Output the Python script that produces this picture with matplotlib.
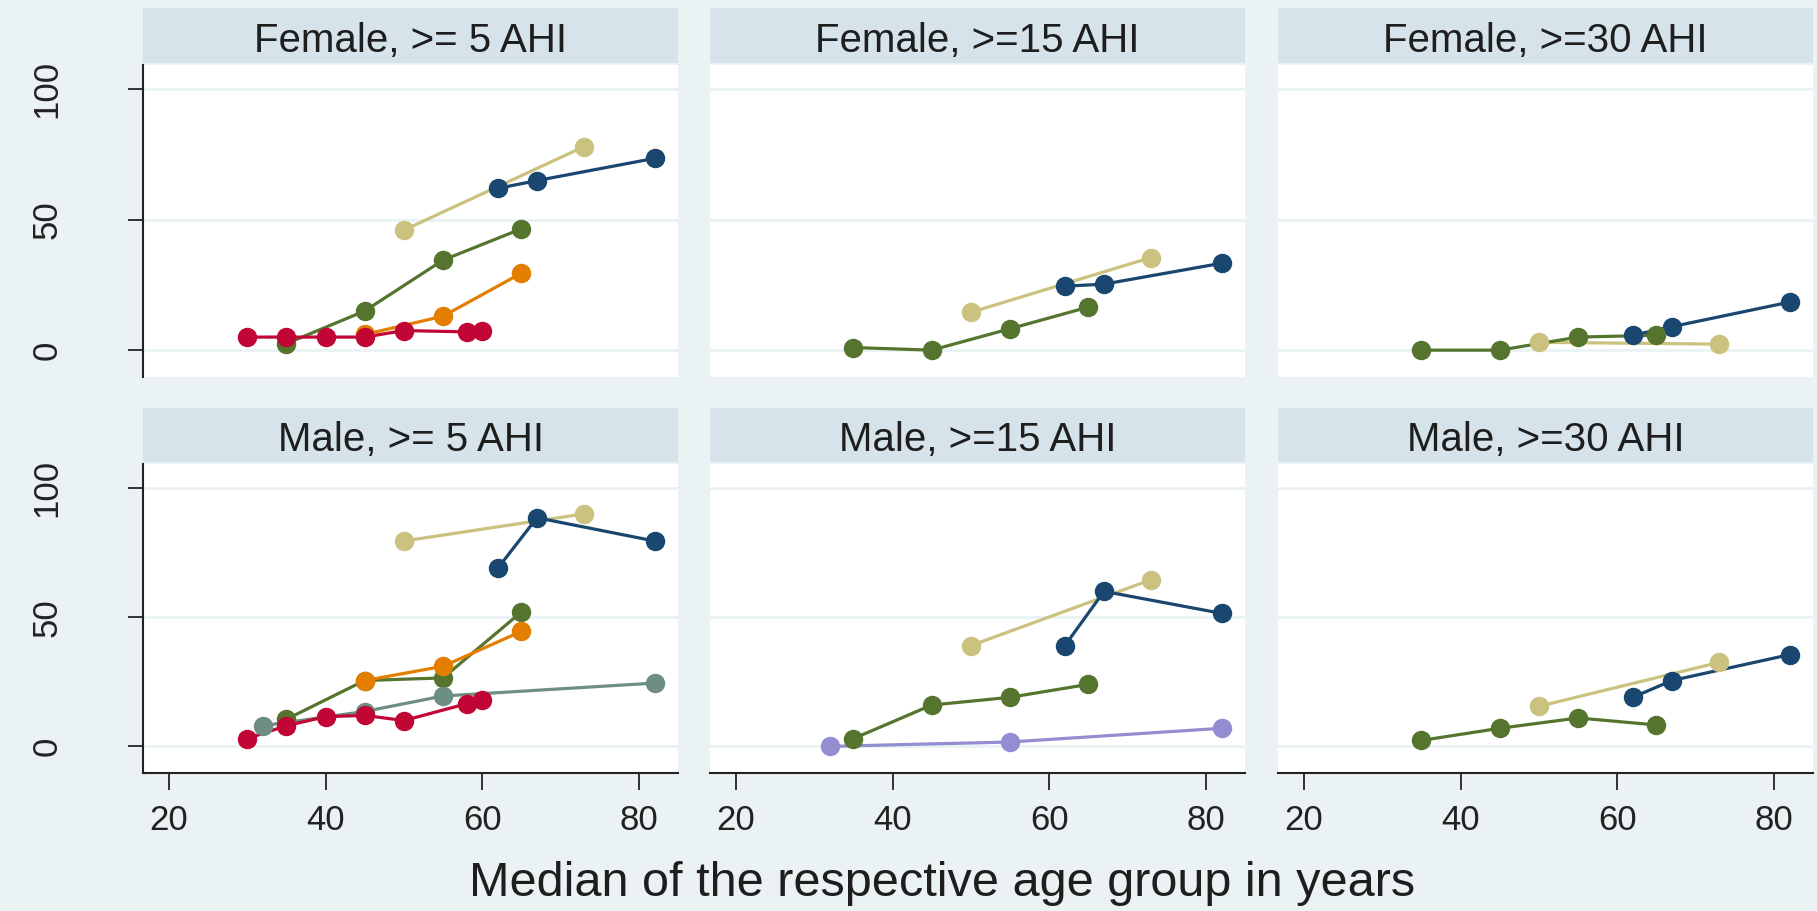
import matplotlib
matplotlib.use("Agg")
import matplotlib.pyplot as plt

plt.rcParams['font.family'] = ['Liberation Sans', 'DejaVu Sans']

# ---------------- data ----------------
panel_titles = ["Female, >= 5 AHI", "Female, >=15 AHI", "Female, >=30 AHI",
                "Male, >= 5 AHI", "Male, >=15 AHI", "Male, >=30 AHI"]
x_ticks = [20, 40, 60, 80]
y_ticks = [0, 50, 100]
x_title = "Median of the respective age group in years"

# ages (median of age group) per series
khaki_age = [50, 73]
navy_age = [62, 67, 82]
green_age = [35, 45, 55, 65]
orange_age = [45, 55, 65]
teal_age = [32, 45, 55, 82]
red_age = [30, 35, 40, 45, 50, 58, 60]
lavender_age = [32, 55, 82]

# prevalence values (%) per panel
khaki_f5 = [46, 78]
navy_f5 = [62, 65, 73.5]
green_f5 = [2.5, 15, 34.5, 46.5]
orange_f5 = [6, 13, 29.5]
red_f5 = [5, 5, 5, 5, 7.5, 7, 7.5]

khaki_f15 = [14.5, 35.5]
navy_f15 = [24.5, 25.3, 33.3]
green_f15 = [1, 0, 8.2, 16.5]

khaki_f30 = [3, 2.3]
navy_f30 = [5.7, 9, 18.4]
green_f30 = [0, 0, 5, 5.7]

khaki_m5 = [79.5, 90]
navy_m5 = [69, 88.5, 79.5]
green_m5 = [10.5, 25.5, 26.5, 52]
orange_m5 = [25.5, 31, 44.5]
teal_m5 = [8, 13.5, 19.5, 24.5]
red_m5 = [3, 8, 11.5, 12, 10, 16.5, 18]

khaki_m15 = [39, 64.5]
navy_m15 = [39, 60, 51.5]
green_m15 = [3, 16, 19, 24]
lavender_m15 = [0, 1.7, 7]

khaki_m30 = [15.5, 32.5]
navy_m30 = [19, 25.5, 35.5]
green_m30 = [2.3, 7, 11, 8.3]

# ---------------- styles ----------------
C_KHAKI = "#cac27e"
C_NAVY = "#1a476f"
C_GREEN = "#55752f"
C_ORANGE = "#e37e00"
C_TEAL = "#6e8e84"
C_RED = "#c10534"
C_LAV = "#938dd2"

panels = [
    [(khaki_age, khaki_f5, C_KHAKI), (navy_age, navy_f5, C_NAVY), (green_age, green_f5, C_GREEN),
     (orange_age, orange_f5, C_ORANGE), (red_age, red_f5, C_RED)],
    [(khaki_age, khaki_f15, C_KHAKI), (navy_age, navy_f15, C_NAVY), (green_age, green_f15, C_GREEN)],
    [(khaki_age, khaki_f30, C_KHAKI), (navy_age, navy_f30, C_NAVY), (green_age, green_f30, C_GREEN)],
    [(khaki_age, khaki_m5, C_KHAKI), (navy_age, navy_m5, C_NAVY), (green_age, green_m5, C_GREEN),
     (orange_age, orange_m5, C_ORANGE), (teal_age, teal_m5, C_TEAL), (red_age, red_m5, C_RED)],
    [(khaki_age, khaki_m15, C_KHAKI), (navy_age, navy_m15, C_NAVY), (green_age, green_m15, C_GREEN),
     (lavender_age, lavender_m15, C_LAV)],
    [(khaki_age, khaki_m30, C_KHAKI), (navy_age, navy_m30, C_NAVY), (green_age, green_m30, C_GREEN)],
]

BG = "#eaf2f3"
STRIP = "#d6e3ea"
GRID = "#eaf2f3"
AX = "#222222"

W, H = 1817, 911
fig = plt.figure(figsize=(W / 100, H / 100), dpi=100, facecolor=BG)

col_x = [143, 710, 1278]
col_w = 535
rows = [  # (strip_top, strip_bottom, plot_top, plot_bottom) in pixels
    (8, 63, 65, 377),
    (408, 462, 464, 773),
]


def fr(x0, y0, x1, y1):
    return [x0 / W, 1 - y1 / H, (x1 - x0) / W, (y1 - y0) / H]


for i, series in enumerate(panels):
    r, c = divmod(i, 3)
    st, sb, pt, pb = rows[r]
    x0 = col_x[c]
    # strip
    sax = fig.add_axes(fr(x0, st, x0 + col_w, sb))
    sax.set_facecolor(STRIP)
    sax.set_xticks([]); sax.set_yticks([])
    for s in sax.spines.values():
        s.set_visible(False)
    sax.text(0.5, 0.40, panel_titles[i], ha="center", va="center",
             fontsize=29, color="#1e1e1e", transform=sax.transAxes)
    # plot
    ax = fig.add_axes(fr(x0, pt, x0 + col_w, pb))
    ax.set_facecolor("white")
    ax.set_xlim(16.7, 85.0)
    ax.set_ylim(-10.3, 109.3)
    for yv in y_ticks:
        ax.axhline(yv, color=GRID, lw=2.0, zorder=0)
    for xs, ys, col in series:
        ax.plot(xs, ys, '-', color=col, lw=2.3, zorder=2)
        ax.plot(xs, ys, 'o', color=col, ms=13, mec=col, zorder=3)
    for s in ax.spines.values():
        s.set_visible(False)
    ax.set_yticks(y_ticks)
    ax.set_xticks(x_ticks)
    if c == 0:
        ax.spines['left'].set_visible(True)
        ax.spines['left'].set_color(AX)
        ax.spines['left'].set_linewidth(1.5)
        ax.tick_params(axis='y', length=11, width=1.3, color=AX, pad=46,
                       labelsize=25, labelcolor="#222222")
        for lab in ax.get_yticklabels():
            lab.set_rotation(90)
            lab.set_va('center')
    else:
        ax.tick_params(axis='y', left=False, labelleft=False)
    if r == 1:
        ax.spines['bottom'].set_visible(True)
        ax.spines['bottom'].set_color(AX)
        ax.spines['bottom'].set_linewidth(1.5)
        ax.tick_params(axis='x', length=12, width=1.3, color=AX, pad=10,
                       labelsize=25, labelcolor="#222222")
    else:
        ax.tick_params(axis='x', bottom=False, labelbottom=False)

fig.text(942 / W, 1 - 883 / H, x_title, ha="center", va="center",
         fontsize=35, color="#1e1e1e")

fig.savefig("out.png", dpi=100, facecolor=BG)
